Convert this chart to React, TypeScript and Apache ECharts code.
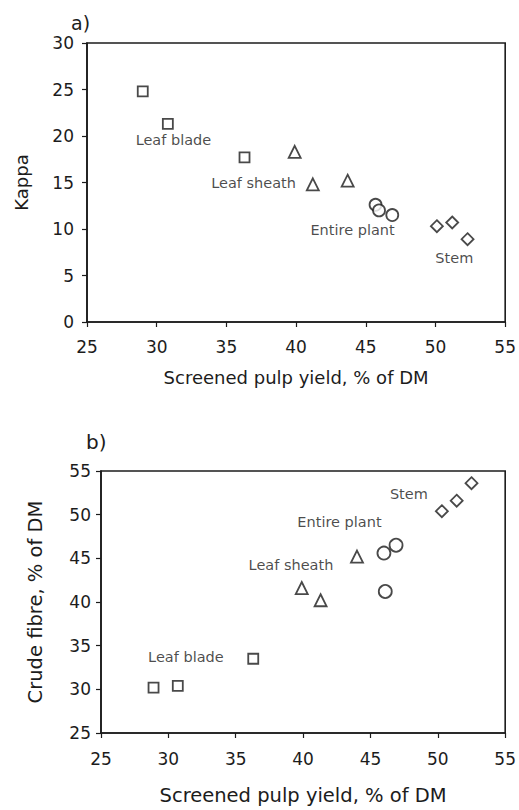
import React, { useEffect, useRef } from "react";
import * as echarts from "echarts";

// Panel a) Kappa vs screened pulp yield
const aLeafBlade: [number, number][] = [[29.0, 24.8], [30.8, 21.3], [36.3, 17.7]];
const aLeafSheath: [number, number][] = [[39.9, 18.3], [41.2, 14.8], [43.7, 15.2]];
const aEntirePlant: [number, number][] = [[45.7, 12.6], [45.95, 12.0], [46.9, 11.5]];
const aStem: [number, number][] = [[50.1, 10.3], [51.2, 10.7], [52.3, 8.9]];

// Panel b) Crude fibre vs screened pulp yield
const bLeafBlade: [number, number][] = [[28.9, 30.2], [30.7, 30.4], [36.3, 33.5]];
const bLeafSheath: [number, number][] = [[39.9, 41.6], [41.3, 40.2], [44.0, 45.2]];
const bEntirePlant: [number, number][] = [[46.0, 45.6], [46.9, 46.5], [46.1, 41.2]];
const bStem: [number, number][] = [[50.3, 50.4], [51.4, 51.6], [52.5, 53.6]];

// group annotations (text, x, y in data units)
const aNotes: [string, number, number][] = [
  ["Leaf blade", 31.2, 19.6],
  ["Leaf sheath", 36.95, 14.95],
  ["Entire plant", 44.05, 9.9],
  ["Stem", 51.35, 6.85],
];
const bNotes: [string, number, number][] = [
  ["Stem", 47.85, 52.4],
  ["Entire plant", 42.7, 49.2],
  ["Leaf sheath", 39.1, 44.25],
  ["Leaf blade", 31.3, 33.75],
];

const xName = "Screened pulp yield, % of DM";
const aYName = "Kappa";
const bYName = "Crude fibre, % of DM";

const INK = "#1c1c1c";
const FONT = "DejaVu Sans, Liberation Sans, sans-serif";

export default function App() {
  const ref = useRef<HTMLDivElement>(null);
  useEffect(() => {
    if (!ref.current) return;
    const chart = echarts.init(ref.current, null, { renderer: "svg" });
    const markerStyle = { color: "#fff", borderColor: INK, borderWidth: 1.8 };
    const mk = (data: [number, number][], symbol: string, size: number, idx: number) => ({
      type: "scatter",
      xAxisIndex: idx,
      yAxisIndex: idx,
      data,
      symbol,
      symbolSize: size,
      itemStyle: markerStyle,
      z: 3,
    });
    const notes = (arr: [string, number, number][], idx: number) => ({
      type: "scatter",
      xAxisIndex: idx,
      yAxisIndex: idx,
      data: arr.map((n) => ({ value: [n[1], n[2]], name: n[0] })),
      symbolSize: 0,
      silent: true,
      label: {
        show: true,
        position: "inside",
        formatter: (p: any) => p.name,
        color: INK,
        fontFamily: FONT,
        fontSize: 14.5,
      },
      z: 4,
    });
    const xAxis = (idx: number, nameGap: number, margin: number, nameSize: number) => ({
      gridIndex: idx,
      type: "value",
      min: 25,
      max: 55,
      interval: 5,
      name: xName,
      nameLocation: "middle",
      nameGap,
      nameTextStyle: { color: INK, fontFamily: FONT, fontSize: nameSize },
      axisLine: { show: true, lineStyle: { color: INK, width: 1.6 } },
      axisTick: { show: true, length: 5, lineStyle: { color: INK, width: 1.2 } },
      axisLabel: { color: INK, fontFamily: FONT, fontSize: 17, margin },
      splitLine: { show: false },
    });
    const yAxis = (idx: number, min: number, max: number, name: string, nameGap: number, margin: number, nameSize: number) => ({
      gridIndex: idx,
      type: "value",
      min,
      max,
      interval: 5,
      name,
      nameLocation: "middle",
      nameGap,
      nameTextStyle: { color: INK, fontFamily: FONT, fontSize: nameSize },
      axisLine: { show: true, lineStyle: { color: INK, width: 1.6 } },
      axisTick: { show: true, length: 5, lineStyle: { color: INK, width: 1.2 } },
      axisLabel: { color: INK, fontFamily: FONT, fontSize: 17, margin },
      splitLine: { show: false },
    });
    chart.setOption({
      animation: false,
      backgroundColor: "#fff",
      grid: [
        { left: 87, top: 43, width: 420, height: 279, show: true, borderColor: INK, borderWidth: 1.6, backgroundColor: "transparent" },
        { left: 101, top: 471, width: 409, height: 262, show: true, borderColor: INK, borderWidth: 1.6, backgroundColor: "transparent" },
      ],
      xAxis: [xAxis(0, 46, 16, 18), xAxis(1, 52, 17, 19.5)],
      yAxis: [yAxis(0, 0, 30, aYName, 57, 13, 18), yAxis(1, 25, 55, bYName, 56, 10, 19.5)],
      graphic: [
        { type: "text", left: 71, top: 13, style: { text: "a)", fill: INK, font: `19px ${FONT}` } },
        { type: "text", left: 86, top: 432, style: { text: "b)", fill: INK, font: `20px ${FONT}` } },
      ],
      series: [
        mk(aLeafBlade, "rect", 10, 0),
        mk(aLeafSheath, "triangle", 12, 0),
        mk(aEntirePlant, "circle", 12, 0),
        mk(aStem, "diamond", 12, 0),
        notes(aNotes, 0),
        mk(bLeafBlade, "rect", 10, 1),
        mk(bLeafSheath, "triangle", 12, 1),
        mk(bEntirePlant, "circle", 13, 1),
        mk(bStem, "diamond", 12, 1),
        notes(bNotes, 1),
      ],
    });
    return () => chart.dispose();
  }, []);
  return (
    <div
      ref={ref}
      style={{ position: "fixed", left: 0, top: 0, width: 519, height: 810, background: "#fff" }}
    />
  );
}
